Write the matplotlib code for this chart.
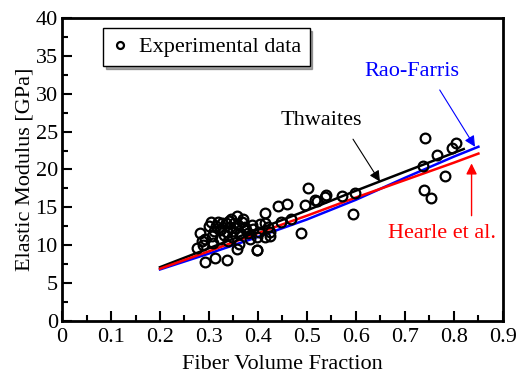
import numpy as np
import matplotlib
matplotlib.use('Agg')
import matplotlib.pyplot as plt
from matplotlib.ticker import MultipleLocator

plt.rcParams['font.family'] = ['Liberation Serif', 'DejaVu Serif']

# experimental data (fiber volume fraction, elastic modulus GPa)
exp_vf = [0.741, 0.805, 0.797, 0.766, 0.736, 0.782, 0.739, 0.753,
          0.503, 0.598, 0.572, 0.539, 0.537, 0.516, 0.496, 0.460, 0.441,
          0.414, 0.594, 0.467, 0.448, 0.488, 0.399, 0.520,
          0.357, 0.282, 0.306, 0.326, 0.343, 0.360, 0.373, 0.387, 0.404,
          0.421, 0.322, 0.336, 0.346, 0.363, 0.380, 0.397, 0.414, 0.322,
          0.288, 0.309, 0.339, 0.357, 0.397, 0.275, 0.312, 0.292, 0.336,
          0.424, 0.414, 0.424, 0.300, 0.318, 0.340, 0.352, 0.370, 0.310,
          0.330, 0.292, 0.362, 0.384, 0.402, 0.350, 0.285, 0.345, 0.375,
          0.305, 0.325, 0.355, 0.390, 0.315, 0.335, 0.368]
exp_e = [24.2, 23.5, 22.9, 21.9, 20.4, 19.2, 17.3, 16.2,
         17.6, 16.9, 16.5, 16.6, 16.4, 16.0, 15.3, 15.5, 15.2,
         14.3, 14.1, 13.5, 13.1, 11.6, 9.4, 15.9,
         13.8, 11.6, 11.2, 12.9, 12.4, 12.7, 12.4, 12.7, 12.8,
         12.4, 12.0, 11.8, 11.1, 11.6, 11.6, 11.1, 11.1, 10.8,
         10.0, 10.3, 10.5, 9.5, 9.4, 9.6, 8.3, 7.8, 8.0,
         11.8, 12.9, 11.2, 12.5, 13.0, 13.2, 12.9, 13.5, 11.9,
         11.4, 10.8, 10.2, 10.8, 11.8, 11.9, 10.5, 13.4, 12.0,
         13.1, 12.2, 12.3, 12.1, 12.6, 12.9, 13.0]

# model curves
thw_vf = [0.2, 0.3, 0.4, 0.5, 0.6, 0.7, 0.82]
thw_e = [7.1, 9.6, 12.1, 14.6, 17.2, 19.7, 22.7]
rao_vf = [0.2, 0.3, 0.4, 0.5, 0.6, 0.7, 0.8, 0.85]
rao_e = [6.8, 8.9, 11.1, 13.4, 16.0, 18.9, 21.7, 23.0]
hea_vf = [0.2, 0.3, 0.4, 0.5, 0.6, 0.7, 0.8, 0.85]
hea_e = [6.9, 9.2, 11.6, 13.9, 16.3, 18.6, 20.9, 22.1]

fig = plt.figure(figsize=(5.19, 3.83), dpi=100)
ax = fig.add_axes([0.1195, 0.162, 0.8495, 0.791])

ax.plot(exp_vf, exp_e, 'o', ms=7, mfc='none', mec='black', mew=1.6,
        label='Experimental data', zorder=3)
ax.plot(thw_vf, thw_e, color='black', lw=1.8, zorder=2)
ax.plot(rao_vf, rao_e, color='blue', lw=1.8, zorder=2)
ax.plot(hea_vf, hea_e, color='red', lw=1.8, zorder=2)

# labels and arrows
ax.text(0.530, 26.5, 'Thwaites', fontsize=16, ha='center', va='center', color='black')
ax.annotate('', xy=(0.649, 18.4), xytext=(0.594, 24.0),
            arrowprops=dict(arrowstyle='-|>', color='black', lw=0.8,
                            mutation_scale=16, shrinkA=0, shrinkB=0))
ax.text(0.714, 33.0, 'Rao-Farris', fontsize=16, ha='center', va='center', color='blue')
ax.annotate('', xy=(0.843, 23.0), xytext=(0.771, 30.5),
            arrowprops=dict(arrowstyle='-|>', color='blue', lw=0.8,
                            mutation_scale=16, shrinkA=0, shrinkB=0))
ax.text(0.775, 11.6, 'Hearle et al.', fontsize=16, ha='center', va='center', color='red')
ax.annotate('', xy=(0.836, 20.8), xytext=(0.836, 13.9),
            arrowprops=dict(arrowstyle='-|>', color='red', lw=1.0,
                            mutation_scale=16, shrinkA=0, shrinkB=0))

ax.set_xlim(0, 0.9)
ax.set_ylim(0, 40)
ax.set_xticks(np.arange(0, 0.91, 0.1))
ax.set_xticklabels(['0', '0.1', '0.2', '0.3', '0.4', '0.5', '0.6', '0.7', '0.8', '0.9'])
ax.xaxis.set_minor_locator(MultipleLocator(0.05))
ax.yaxis.set_major_locator(MultipleLocator(5))
ax.yaxis.set_minor_locator(MultipleLocator(2.5))
ax.tick_params(which='both', direction='in', top=False, right=False,
               labelsize=16, width=1.5)
ax.tick_params(axis='x', pad=5)
ax.tick_params(axis='y', pad=3)
ax.tick_params(which='major', length=7)
ax.tick_params(which='minor', length=4)
for s in ax.spines.values():
    s.set_linewidth(2)

ax.set_xlabel('Fiber Volume Fraction', fontsize=16, labelpad=6)
ax.set_ylabel('Elastic Modulus [GPa]', fontsize=16, labelpad=1)

leg = ax.legend(loc='upper left', bbox_to_anchor=(0.093, 0.967), fontsize=16,
                fancybox=False, shadow=True, edgecolor='black',
                handlelength=0.7, handletextpad=0.5, borderpad=0.4,
                borderaxespad=0, framealpha=1)
leg.get_frame().set_linewidth(1.0)
leg.legend_handles[0].set_markersize(5)

fig.savefig('out.png', dpi=100)
